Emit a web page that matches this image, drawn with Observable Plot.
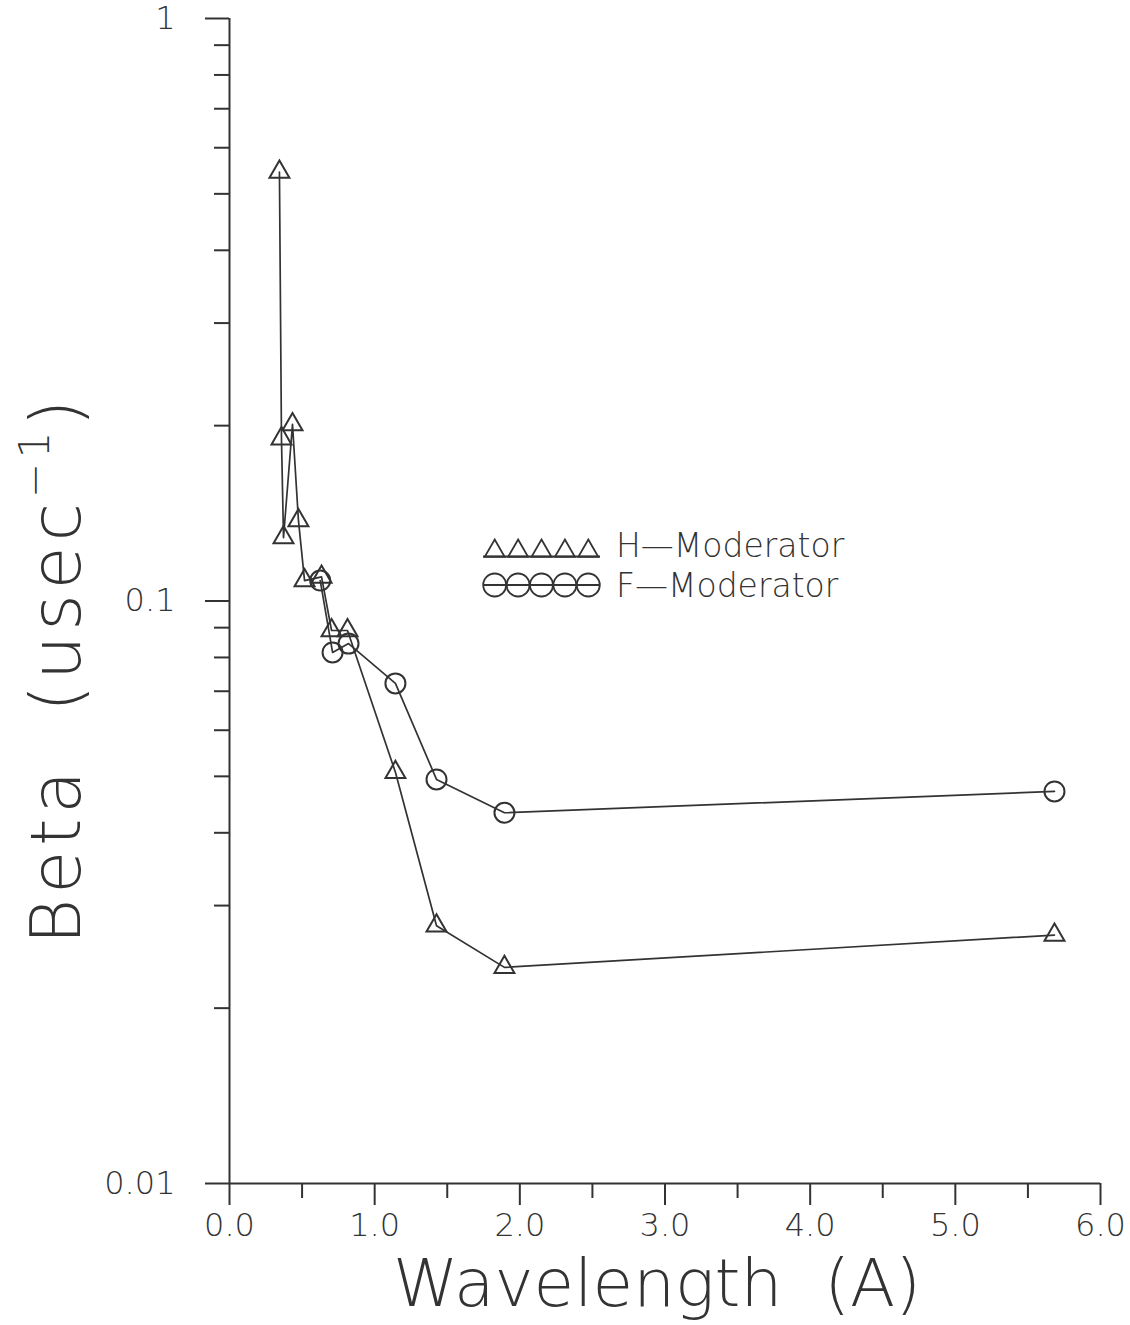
<!DOCTYPE html>
<html>
<head>
<meta charset="utf-8">
<script src="https://cdn.jsdelivr.net/npm/d3@7"></script>
<script src="https://cdn.jsdelivr.net/npm/@observablehq/plot@0.6"></script>
<style>
  html, body { margin: 0; padding: 0; background: #fff; }
  #chart svg { display: block; }
</style>
</head>
<body>
<div id="chart"></div>
<script>
// ---- data ----
const seriesNames = ["H-Moderator", "F-Moderator"];
const wavelengthH = [0.344, 0.358, 0.372, 0.434, 0.475, 0.517, 0.634, 0.703, 0.813, 1.143, 1.426, 1.894, 5.683];
const betaH       = [0.545, 0.190, 0.1285, 0.201, 0.1375, 0.1084, 0.110, 0.089, 0.089, 0.0508, 0.0277, 0.0235, 0.0267];
const wavelengthF = [0.625, 0.71, 0.82, 1.143, 1.426, 1.894, 5.683];
const betaF       = [0.1084, 0.0816, 0.0845, 0.0722, 0.0494, 0.0433, 0.0471];

const xTicks = [0, 1, 2, 3, 4, 5, 6];
const xTickLabels = ["0.0", "1.0", "2.0", "3.0", "4.0", "5.0", "6.0"];
const xMinorTicks = [0.5, 1.5, 2.5, 3.5, 4.5, 5.5];
const yTicks = [0.01, 0.1, 1];
const yTickLabels = ["0.01", "0.1", "1"];
const yMinorTicks = [0.02, 0.03, 0.04, 0.05, 0.06, 0.07, 0.08, 0.09, 0.2, 0.3, 0.4, 0.5, 0.6, 0.7, 0.8, 0.9];
const xLabel = "Wavelength  (A)";
const yLabel = "Beta  (usec";

const hData = wavelengthH.map((w, i) => ({w, b: betaH[i]}));
const fData = wavelengthF.map((w, i) => ({w, b: betaF[i]}));
const xFmt = new Map(xTicks.map((t, i) => [t, xTickLabels[i]]));
const yFmt = new Map(yTicks.map((t, i) => [t, yTickLabels[i]]));

const ink = "#333";
const font = "'DejaVu Sans ExtraLight', 'DejaVu Sans', sans-serif";

const plot = Plot.plot({
  width: 1130,
  height: 1325,
  marginLeft: 229,
  marginRight: 30,
  marginTop: 18,
  marginBottom: 142,
  x: {domain: [0, 6], label: null},
  y: {type: "log", domain: [0.01, 1], label: null},
  style: {fontFamily: font, fontWeight: 200, fontSize: "31px", color: ink, background: "#fff"},
  marks: [
    Plot.ruleX([0], {stroke: ink, strokeWidth: 2}),
    Plot.ruleY([0.01], {stroke: ink, strokeWidth: 2}),
    Plot.axisY(yTicks, {tickSize: 24, tickPadding: 30, strokeWidth: 2, stroke: ink, tickFormat: d => yFmt.get(d), label: null, fontSize: 32}),
    Plot.axisY(yMinorTicks, {tickSize: 15, strokeWidth: 2, stroke: ink, tickFormat: () => "", label: null}),
    Plot.axisX(xTicks, {tickSize: 22, tickPadding: 8, strokeWidth: 2, stroke: ink, tickFormat: d => xFmt.get(d), label: null, fontSize: 32}),
    Plot.axisX(xMinorTicks, {tickSize: 15, strokeWidth: 2, stroke: ink, tickFormat: () => "", label: null}),
    Plot.line(hData, {x: "w", y: "b", stroke: ink, strokeWidth: 1.7}),
    Plot.line(fData, {x: "w", y: "b", stroke: ink, strokeWidth: 1.7}),
    Plot.dot(hData, {x: "w", y: "b", symbol: "triangle", r: 7.4, stroke: ink, strokeWidth: 2, fill: "none"}),
    Plot.dot(fData, {x: "w", y: "b", symbol: "circle", r: 10, stroke: ink, strokeWidth: 2, fill: "none"})
  ]
});
document.getElementById("chart").appendChild(plot);

// ---- axis titles and legend (added to the SVG) ----
const svg = d3.select(plot);

// y title, rotated
const yt = svg.append("text")
  .attr("transform", "translate(80,672) rotate(-90)")
  .attr("text-anchor", "middle")
  .attr("font-family", font).attr("font-weight", 200)
  .attr("font-size", 70).attr("fill", ink)
  .attr("textLength", 545).attr("lengthAdjust", "spacing")
  .style("white-space", "pre");
yt.append("tspan").text(yLabel);
yt.append("tspan").attr("font-size", 42).attr("dy", "-0.75em").text("−1");
yt.append("tspan").attr("dy", "0.45em").text(")");

// x title
svg.append("text")
  .attr("x", 657).attr("y", 1306)
  .attr("text-anchor", "middle")
  .attr("font-family", font).attr("font-weight", 200)
  .attr("font-size", 66).attr("fill", ink)
  .style("white-space", "pre")
  .text(xLabel);

// legend
const leg = svg.append("g").attr("fill", "none").attr("stroke", ink).attr("stroke-width", 1.8);
const legX0 = 483, legStep = 23.4, legN = 5;
const triPath = d3.symbol(d3.symbolTriangle, Math.PI * 7.4 * 7.4)();
const rowH = 557, rowF = 585;
leg.append("line").attr("x1", legX0).attr("x2", legX0 + legStep * legN).attr("y1", rowH - 0.5).attr("y2", rowH - 0.5);
leg.append("line").attr("x1", legX0).attr("x2", legX0 + legStep * legN).attr("y1", rowF).attr("y2", rowF);
for (let i = 0; i < legN; i++) {
  const cx = legX0 + legStep * (i + 0.5);
  leg.append("path").attr("d", triPath).attr("transform", `translate(${cx},${rowH - 6})`);
  leg.append("circle").attr("cx", cx).attr("cy", rowF).attr("r", 11.5);
}
const legText = svg.append("g").attr("font-family", font).attr("font-weight", 200)
  .attr("font-size", 33).attr("fill", ink).attr("text-anchor", "start");
legText.append("text").attr("x", 616).attr("y", rowH).text(seriesNames[0].replace("-", "—"));
legText.append("text").attr("x", 616).attr("y", rowF + 12).text(seriesNames[1].replace("-", "—"));
</script>
</body>
</html>
